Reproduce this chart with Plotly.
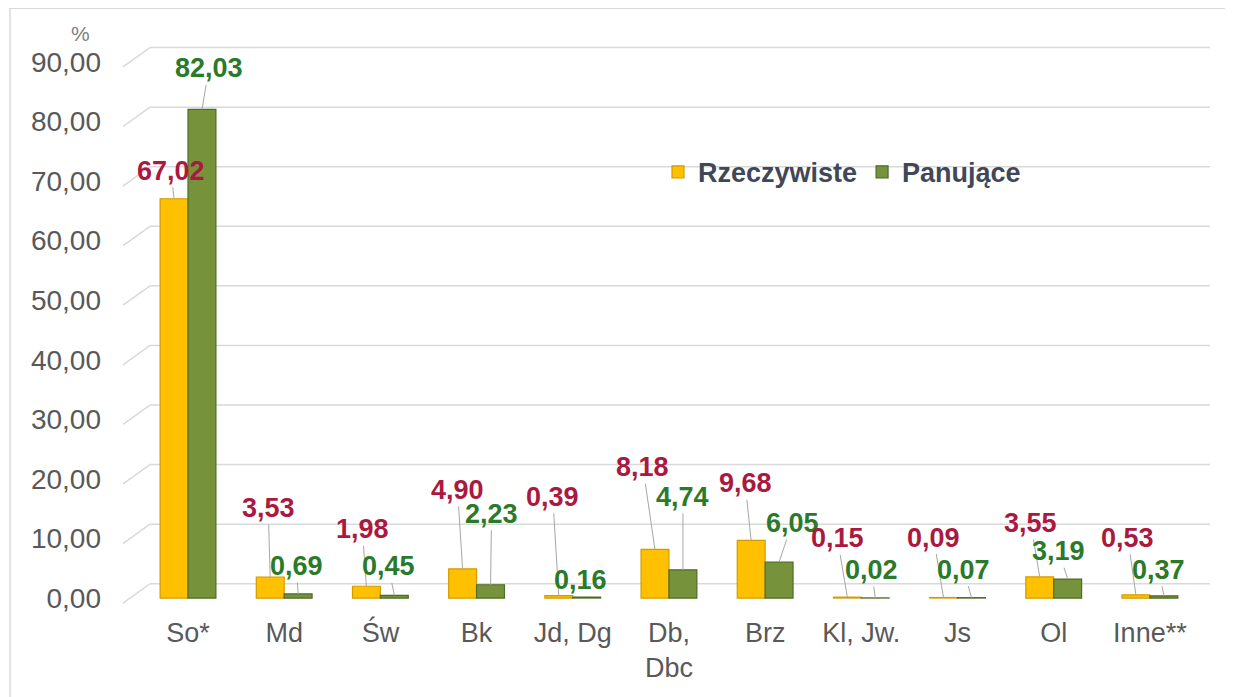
import plotly.graph_objects as go

categories = ["So*", "Md", "Św", "Bk", "Jd, Dg", "Db,<br>Dbc", "Brz", "Kl, Jw.", "Js", "Ol", "Inne**"]
rzeczywiste = [67.02, 3.53, 1.98, 4.90, 0.39, 8.18, 9.68, 0.15, 0.09, 3.55, 0.53]
panujace = [82.03, 0.69, 0.45, 2.23, 0.16, 4.74, 6.05, 0.02, 0.07, 3.19, 0.37]
series_names = ["Rzeczywiste", "Panujące"]
y_ticks = [0, 10, 20, 30, 40, 50, 60, 70, 80, 90]

# label offsets (pixels) from bar top to label centre
off_r = [(-3, -28), (-2, -69), (-4, -57), (-5, -79), (-6, -99), (-12, -82), (-6, -57), (-10, -59), (-10, -60), (-9, -54), (-8, -57)]
off_p = [(7, -41), (-2, -28), (-6, -29), (1, -71), (-6, -17), (0, -73), (13, -39), (-4, -28), (-8, -28), (-9, -28), (-5, -26)]

YELLOW = "#ffc000"
GREEN = "#76933c"
RED_TXT = "#ab1840"
GREEN_TXT = "#2a7a2a"
GREY = "#595959"
FONT = "Liberation Sans, Arial, sans-serif"

fig = go.Figure()
fig.add_trace(go.Bar(x=categories, y=rzeczywiste, name="<b>" + series_names[0] + "</b>",
                     marker=dict(color=YELLOW, line=dict(color="#d49b00", width=1.2))))
fig.add_trace(go.Bar(x=categories, y=panujace, name="<b>" + series_names[1] + "</b>",
                     marker=dict(color=GREEN, line=dict(color="#4f6a26", width=1.2))))

annotations = []
for i, c in enumerate(categories):
    for vals, offs, shift, col in ((rzeczywiste, off_r, -14, RED_TXT), (panujace, off_p, 14, GREEN_TXT)):
        ax, ay = offs[i]
        annotations.append(dict(
            x=c, y=vals[i], xref="x", yref="y", xshift=shift,
            text="<b>" + f"{vals[i]:.2f}".replace(".", ",") + "</b>",
            showarrow=True, arrowhead=0, arrowwidth=1, arrowcolor="#a6a6a6",
            ax=ax, ay=ay, standoff=0,
            font=dict(family=FONT, size=27, color=col)))

annotations.append(dict(x=-0.0517, y=1.0196, xref="paper", yref="paper", text="%",
                        xanchor="center", yanchor="middle",
                        showarrow=False, font=dict(family=FONT, size=21, color="#7f7f7f")))

shapes = []
DY = 2.4   # back wall offset in data units
for t in y_ticks:
    shapes.append(dict(type="line", xref="paper", yref="y", x0=-0.0113, y0=t - 0.85, x1=0.0141, y1=t + DY,
                       line=dict(color="#d9d9d9", width=1.5), layer="below"))
    shapes.append(dict(type="line", xref="paper", yref="y", x0=0.0141, y0=t + DY, x1=1.0113, y1=t + DY,
                       line=dict(color="#d9d9d9", width=1.5), layer="below"))
shapes.append(dict(type="rect", xref="paper", yref="paper", x0=-0.1176, y0=-0.4, x1=1.3, y1=1.064,
                   line=dict(color="#d9d9d9", width=1.5), layer="below"))

fig.update_layout(
    width=1225, height=689,
    margin=dict(l=127, r=35, t=36, b=93),
    paper_bgcolor="white", plot_bgcolor="white",
    separators=", ",
    barmode="group", bargap=0.42, bargroupgap=0,
    font=dict(family=FONT, color=GREY),
    showlegend=True,
    legend=dict(orientation="h", x=0.492, y=0.771, xanchor="left", yanchor="middle",
                font=dict(family=FONT, size=27, color="#404858"), bgcolor="rgba(0,0,0,0)",
                itemwidth=30, traceorder="normal"),
    annotations=annotations,
    shapes=shapes,
    xaxis=dict(showgrid=False, showline=False, zeroline=False, ticks="",
               tickfont=dict(family=FONT, size=27, color=GREY), ticklabelstandoff=10),
    yaxis=dict(range=[-1, 93], tickvals=y_ticks, tickformat=".2f", showgrid=False, zeroline=False,
               showline=False, ticks="", tickfont=dict(family=FONT, size=28, color=GREY),
               ticklabelstandoff=33),
)

fig.write_html("out.html")
